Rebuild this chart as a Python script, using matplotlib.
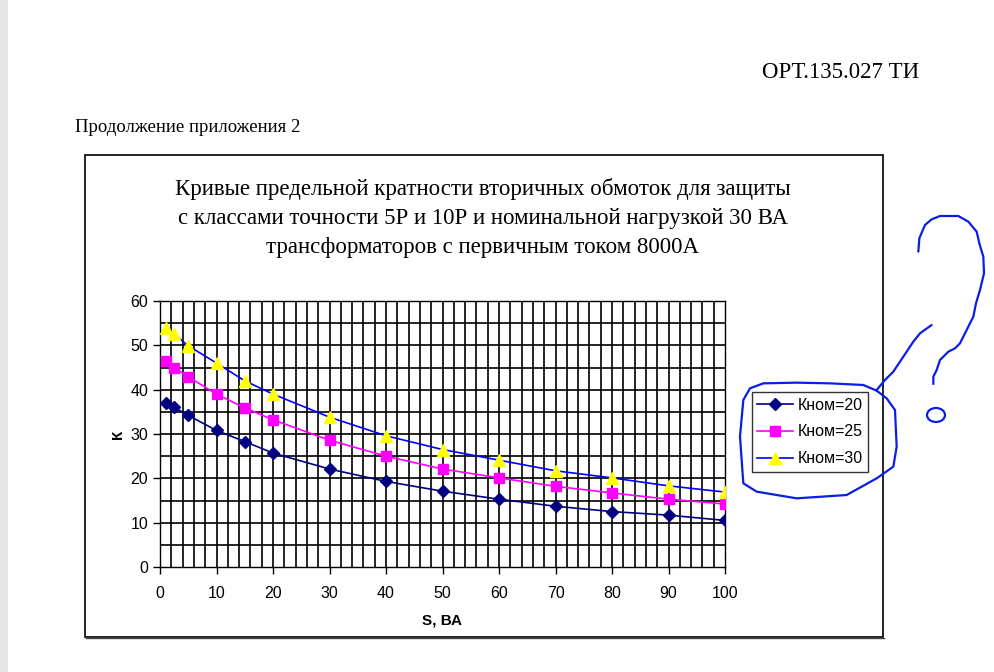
import numpy as np
import matplotlib
matplotlib.use('Agg')
import matplotlib.pyplot as plt
from matplotlib.lines import Line2D
from matplotlib.patches import Rectangle, Ellipse

# data
s_va = [1, 2.5, 5, 10, 15, 20, 30, 40, 50, 60, 70, 80, 90, 100]
k_nom20 = [37.0, 36.0, 34.2, 30.8, 28.3, 25.7, 22.1, 19.3, 17.1, 15.3, 13.7, 12.5, 11.7, 10.5]
k_nom25 = [46.4, 45.0, 42.9, 39.0, 35.9, 33.2, 28.6, 25.0, 22.1, 20.1, 18.2, 16.7, 15.3, 14.2]
k_nom30 = [54.0, 52.5, 49.9, 46.0, 42.0, 39.0, 33.8, 29.6, 26.5, 24.1, 21.7, 20.1, 18.3, 16.9]
labels = ['Кном=20', 'Кном=25', 'Кном=30']

W, H = 994, 672


def px(x, y):
    return x / W, 1 - y / H


fig = plt.figure(figsize=(W / 100, H / 100), dpi=100)
fig.patch.set_facecolor('white')

# page shadow on the left
fig.add_artist(Rectangle(px(0, 672), 8 / W, 1, transform=fig.transFigure,
                         facecolor='#e6e6e6', edgecolor='none'))

serif = 'Liberation Serif'
sans = 'Liberation Sans'

fig.text(*px(762, 72), 'ОРТ.135.027 ТИ', family=serif, fontsize=16.5,
         va='center', ha='left')
fig.text(*px(75, 127), 'Продолжение приложения 2', family=serif, fontsize=13.5,
         va='center', ha='left')

# chart frame
x0, y0 = px(85, 637)
fig.add_artist(Rectangle((x0, y0), 798 / W, 482 / H, transform=fig.transFigure,
                         facecolor='none', edgecolor='black', lw=1.2))
fig.add_artist(Line2D(*zip(px(86, 638), px(884, 638)), transform=fig.transFigure,
                      color='#444444', lw=1.0))

fig.text(*px(483, 218),
         'Кривые предельной кратности вторичных обмоток для защиты\n'
         'с классами точности 5Р и 10Р и номинальной нагрузкой 30 ВА\n'
         'трансформаторов с первичным током 8000А',
         family=serif, fontsize=16.5, ha='center', va='center', linespacing=1.52)

ax = fig.add_axes([160 / W, 1 - 567 / H, 565 / W, 266 / H])
ax.set_xlim(0, 100)
ax.set_ylim(0, 60)
ax.set_xticks(np.arange(0, 101, 10))
ax.set_yticks(np.arange(0, 61, 10))
for xv in np.arange(2, 100, 2):
    ax.axvline(xv, color='black', lw=1.2, zorder=1)
for yv in np.arange(5, 60, 5):
    ax.axhline(yv, color='black', lw=1.2, zorder=1)
ax.tick_params(direction='out', length=5, width=1, labelsize=11.5)
ax.tick_params(axis='x', pad=9)
for lab in ax.get_xticklabels() + ax.get_yticklabels():
    lab.set_family(sans)
for sp in ax.spines.values():
    sp.set_color('black')
    sp.set_linewidth(1.0)

l1, = ax.plot(s_va, k_nom20, color='#000080', marker='D', ms=6, lw=1.2,
              mfc='#000080', mec='#000080', label=labels[0], zorder=3)
l2, = ax.plot(s_va, k_nom25, color='#FF00FF', marker='s', ms=7, lw=1.2,
              mfc='#FF00FF', mec='#FF00FF', label=labels[1], zorder=3)
l3, = ax.plot(s_va, k_nom30, color='#0000FF', marker='^', ms=8, lw=1.2,
              mfc='#FFFF00', mec='#FFFF00', label=labels[2], zorder=3)

ax.set_ylabel('К', family=sans, fontsize=11, fontweight='bold', labelpad=4)
ax.set_xlabel('S, ВА', family=sans, fontsize=11, fontweight='bold', labelpad=9)

leg = fig.legend(handles=[l1, l2, l3], loc='center', bbox_to_anchor=px(810, 432),
                 prop={'family': sans, 'size': 11.5}, frameon=True, fancybox=False,
                 edgecolor='black', handlelength=2.2, borderpad=0.35,
                 labelspacing=0.75, handletextpad=0.3, borderaxespad=0)
leg.get_frame().set_linewidth(1.0)

# hand-drawn blue scribbles
blue = '#0a1ee8'
qmark = [(175, 215), (178, 175), (195, 135), (215, 118), (240, 108), (295, 108),
         (325, 125), (350, 155), (358, 190), (370, 230), (372, 280), (360, 330),
         (348, 370), (340, 410), (320, 450), (300, 490), (285, 505), (265, 515),
         (240, 540), (230, 570), (220, 590), (220, 612)]
tail = [(215, 435), (180, 460), (160, 485), (130, 530), (100, 575), (75, 600),
        (50, 630)]
loop = [(440, 62), (400, 45), (300, 40), (200, 38), (100, 40), (60, 55), (40, 90),
        (30, 200), (40, 340), (80, 365), (200, 385), (350, 375), (440, 325),
        (490, 290), (500, 230), (495, 120), (470, 85), (440, 62)]


def draw(pts, ox, oy):
    xs, ys = zip(*[px(ox + a / 3, oy + b / 3) for a, b in pts])
    fig.add_artist(Line2D(xs, ys, transform=fig.transFigure, color=blue, lw=1.6,
                          solid_capstyle='round', solid_joinstyle='round'))


draw(qmark, 860, 180)
draw(tail, 860, 180)
draw(loop, 730, 370)
fig.add_artist(Ellipse(px(936, 415), 18 / W, 14 / H, transform=fig.transFigure,
                       facecolor='none', edgecolor=blue, lw=1.6))

fig.savefig('out.png', dpi=100)
